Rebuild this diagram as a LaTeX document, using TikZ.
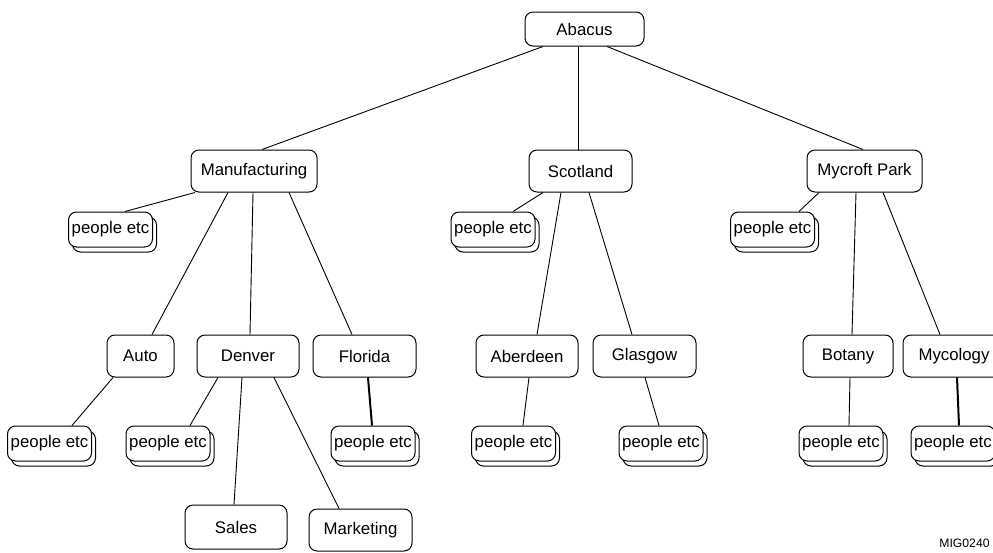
\documentclass[tikz,border=0pt]{standalone}
\usepackage{fontspec}
\setmainfont{Liberation Sans}
\usetikzlibrary{shadows}
\begin{document}
\begin{tikzpicture}[x=1pt,y=-1pt,
  box/.style={draw, line width=1pt, rounded corners=8pt, fill=white, inner sep=0pt,
    minimum height=42pt, font=\fontsize{16.8}{18}\selectfont, text=black},
  ppl/.style={box, minimum width=84pt, minimum height=35pt,
    copy shadow={shadow xshift=4pt, shadow yshift=-5pt, draw, fill=white, line width=1pt}},
  link/.style={line width=0.9pt},
  thicklink/.style={line width=2pt}]
\clip (0,0) rectangle (993,552);
\fill[white] (0,0) rectangle (993,552);
% top
\node[box, minimum width=119pt, minimum height=34pt] (abacus) at (584.5,29) {Abacus};
% second row
\node[box, minimum width=126pt] (manu) at (254,171) {Manufacturing};
\node[box, minimum width=103pt] (scot) at (580.5,171) {Scotland};
\node[box, minimum width=115pt] (myc) at (864.5,171) {Mycroft Park};
\node[ppl] (pmanu) at (110.5,229.5) {people etc};
\node[ppl] (pscot) at (493,229.5) {people etc};
\node[ppl] (pmyc) at (772.5,229.5) {people etc};
% third row
\node[box, minimum width=67pt] (auto) at (140.5,356) {Auto};
\node[box, minimum width=102pt] (denver) at (248,356) {Denver};
\node[box, minimum width=103pt] (florida) at (364.5,356) {Florida};
\node[box, minimum width=102pt] (aber) at (527,356) {Aberdeen};
\node[box, minimum width=103pt] (glas) at (644.5,356) {Glasgow};
\node[box, minimum width=90pt] (botany) at (848,356) {Botany};
\node[box, minimum width=102pt] (mycol) at (954,356) {Mycology};
% people row
\node[ppl] (pauto) at (49.5,443.5) {people etc};
\node[ppl] (pdenver) at (168,443.5) {people etc};
\node[ppl] (pflorida) at (373,443.5) {people etc};
\node[ppl] (paber) at (513.5,443.5) {people etc};
\node[ppl] (pglas) at (661,443.5) {people etc};
\node[ppl] (pbotany) at (841,443.5) {people etc};
\node[ppl] (pmycol) at (953,443.5) {people etc};
% bottom
\node[box, minimum width=102pt, minimum height=44pt] (sales) at (236,527) {Sales};
\node[box, minimum width=103pt] (mkt) at (360.5,530) {Marketing};
\node[font=\fontsize{12.2}{14}\selectfont, text=black, inner sep=0pt] (mig) at (964.5,543) {MIG0240};
% connectors
\draw[link] ([xshift=-41.5pt]abacus.south) -- ([xshift=8pt]manu.north);
\draw[link] ([xshift=-6.5pt]abacus.south) -- ([xshift=-2.5pt]scot.north);
\draw[link] ([xshift=22.5pt]abacus.south) -- ([xshift=-1.5pt]myc.north);
\draw[link] ([xshift=-59pt]manu.south) -- ([xshift=14.5pt]pmanu.north);
\draw[link] ([xshift=-26pt]manu.south) -- ([xshift=11.5pt]auto.north);
\draw[link] ([xshift=-1pt]manu.south) -- ([xshift=2pt]denver.north);
\draw[link] ([xshift=35pt]manu.south) -- ([xshift=-12.5pt]florida.north);
\draw[link] ([xshift=-27.5pt]auto.south) -- ([xshift=22.5pt]pauto.north);
\draw[link] ([xshift=-30pt]denver.south) -- ([xshift=22pt]pdenver.north);
\draw[link] ([xshift=-6pt]denver.south) -- ([xshift=-2pt]sales.north);
\draw[link] ([xshift=26pt]denver.south) -- ([xshift=-21.5pt]mkt.north);
\draw[thicklink] ([xshift=3.5pt]florida.south) -- ([xshift=-1pt]pflorida.north);
\draw[link] ([xshift=-37.5pt]scot.south) -- ([xshift=20pt]pscot.north);
\draw[link] ([xshift=-19.5pt]scot.south) -- ([xshift=10pt]aber.north);
\draw[link] ([xshift=8.5pt]scot.south) -- ([xshift=-12.5pt]glas.north);
\draw[link] ([xshift=2pt]aber.south) -- ([xshift=9.5pt]paber.north);
\draw[link] ([xshift=0.5pt]glas.south) -- ([xshift=-2pt]pglas.north);
\draw[link] ([xshift=-45.5pt]myc.south) -- ([xshift=26.5pt]pmyc.north);
\draw[link] ([xshift=-8.5pt]myc.south) -- ([xshift=4pt]botany.north);
\draw[link] ([xshift=18.5pt]myc.south) -- ([xshift=-14pt]mycol.north);
\draw[link] ([xshift=2pt]botany.south) -- ([xshift=8pt]pbotany.north);
\draw[thicklink] ([xshift=3pt]mycol.south) -- ([xshift=6pt]pmycol.north);
\end{tikzpicture}
\end{document}
